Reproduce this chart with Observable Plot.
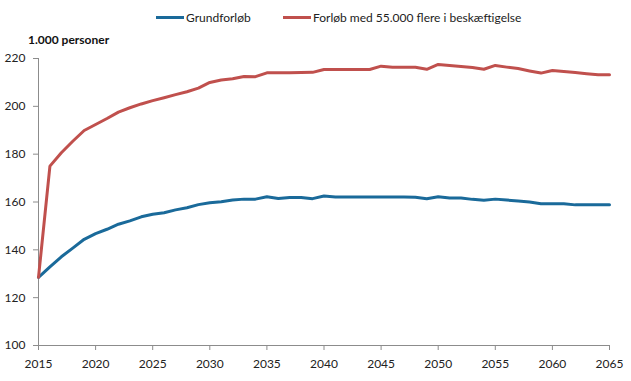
<!DOCTYPE html>
<html>
<head>
<meta charset="utf-8">
<script src="https://cdn.jsdelivr.net/npm/d3@7"></script>
<script src="https://cdn.jsdelivr.net/npm/@observablehq/plot@0.6"></script>
<style>
  body { margin: 0; background: #fff; font-family: Lato, "Open Sans", sans-serif; }
  #wrap { position: relative; width: 631px; height: 381px; }
  #legend { position: absolute; top: 10px; left: 0; width: 631px; font-size: 12px; color: #222; }
  .item { position: absolute; top: 0; display: flex; align-items: center; white-space: nowrap; }
  .swatch { width: 28px; height: 3px; margin-right: 2px; }
  #ylabel { position: absolute; left: 28px; top: 32px; font-size: 12px; font-weight: bold; color: #111; }
</style>
</head>
<body>
<div id="wrap">
  <div id="legend"></div>
  <div id="ylabel">1.000 personer</div>
  <div id="chart"></div>
</div>
<script>
const years = d3.range(2015, 2066);
const seriesNames = ["Grundforløb", "Forløb med 55.000 flere i beskæftigelse"];
const seriesColors = ["#1a6a9a", "#c0504d"];
const grundforloeb = [
  128.5, 132.9, 137.1, 140.7, 144.4, 146.8, 148.6, 150.7, 152.1, 153.8,
  154.9, 155.5, 156.7, 157.6, 158.9, 159.7, 160.1, 160.8, 161.2, 161.2,
  162.2, 161.5, 161.9, 161.9, 161.4, 162.5, 162.1, 162.1, 162.1, 162.1,
  162.1, 162.1, 162.1, 162.0, 161.4, 162.2, 161.7, 161.7, 161.1, 160.7,
  161.2, 160.8, 160.4, 160.0, 159.3, 159.3, 159.3, 158.8, 158.8, 158.8,
  158.8
];
const med55000 = [
  128.5, 175.0, 180.6, 185.4, 189.9, 192.4, 194.9, 197.6, 199.4, 201.0,
  202.4, 203.6, 204.9, 206.1, 207.6, 210.0, 211.0, 211.5, 212.5, 212.4,
  214.0, 214.0, 214.0, 214.1, 214.2, 215.4, 215.4, 215.4, 215.4, 215.4,
  216.8, 216.3, 216.3, 216.3, 215.5, 217.5, 217.1, 216.7, 216.2, 215.5,
  217.1, 216.4, 215.8, 214.8, 213.9, 215.0, 214.6, 214.1, 213.6, 213.2,
  213.2
];
const xTicks = d3.range(2015, 2066, 5);
const yTicks = [100, 120, 140, 160, 180, 200, 220];

const data = [
  ...years.map((y, i) => ({year: y, value: grundforloeb[i], series: seriesNames[0]})),
  ...years.map((y, i) => ({year: y, value: med55000[i], series: seriesNames[1]}))
];

const axisColor = "#8c8c8c";
const labelColor = "#222";
const plot = Plot.plot({
  width: 631,
  height: 381,
  marginLeft: 38,
  marginRight: 22,
  marginTop: 58,
  marginBottom: 36,
  style: {fontFamily: "Lato, 'Open Sans', sans-serif", fontSize: "12px", color: "#222", background: "#fff"},
  x: {domain: [2015, 2065], label: null},
  y: {domain: [100, 220], label: null},
  color: {domain: seriesNames, range: seriesColors},
  marks: [
    // tick marks only
    Plot.axisX({ticks: xTicks, tickSize: 5, tickFormat: () => "", stroke: axisColor, label: null}),
    Plot.axisY({ticks: yTicks, tickSize: 5, tickFormat: () => "", stroke: axisColor, label: null}),
    // tick labels
    Plot.text(xTicks, {x: (d) => d, y: () => 100, dy: 19, text: (d) => String(d), fill: labelColor, fontSize: 12}),
    Plot.text(yTicks, {x: () => 2015, y: (d) => d, dx: -13, text: (d) => String(d), textAnchor: "end", fill: labelColor, fontSize: 12}),
    Plot.ruleX([2015], {stroke: axisColor}),
    Plot.ruleY([100], {stroke: axisColor}),
    Plot.line(data, {x: "year", y: "value", z: "series", stroke: "series", strokeWidth: 3, strokeLinejoin: "round"})
  ]
});
document.getElementById("chart").appendChild(plot);

const legend = document.getElementById("legend");
const legendLeft = [156, 283];
seriesNames.forEach((name, i) => {
  const item = document.createElement("div");
  item.className = "item";
  item.style.left = legendLeft[i] + "px";
  const sw = document.createElement("span");
  sw.className = "swatch";
  sw.style.background = seriesColors[i];
  const t = document.createElement("span");
  t.textContent = name;
  item.appendChild(sw);
  item.appendChild(t);
  legend.appendChild(item);
});
</script>
</body>
</html>
